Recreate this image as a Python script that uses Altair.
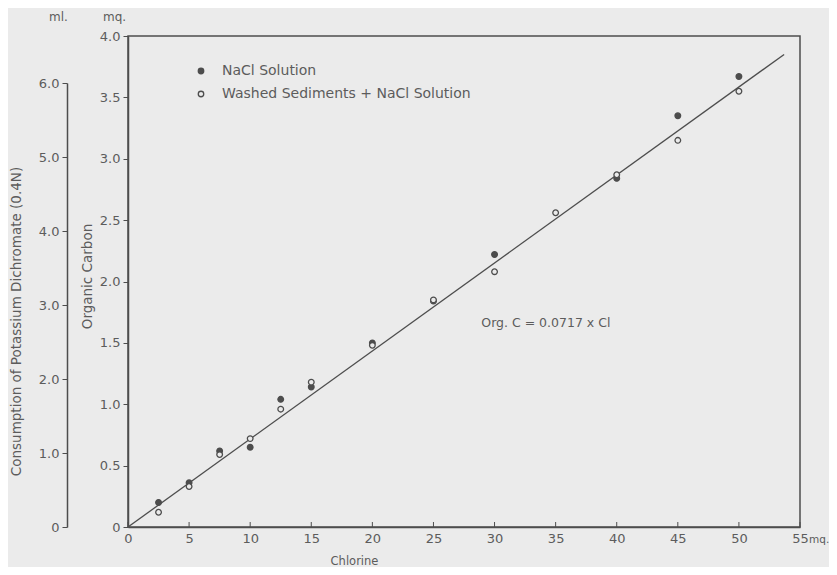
import altair as alt
import pandas as pd

# ---- data ----
x_nacl = [2.5, 5, 7.5, 10, 12.5, 15, 20, 25, 30, 40, 45, 50]
y_nacl = [0.20, 0.36, 0.62, 0.65, 1.04, 1.14, 1.50, 1.84, 2.22, 2.84, 3.35, 3.67]
x_washed = [2.5, 5, 7.5, 10, 12.5, 15, 20, 25, 30, 35, 40, 45, 50]
y_washed = [0.12, 0.33, 0.59, 0.72, 0.96, 1.18, 1.48, 1.85, 2.08, 2.56, 2.87, 3.15, 3.55]
fit_x = [0, 53.7]
fit_y = [0, 3.85]
series_names = ["NaCl Solution", "Washed Sediments + NaCl Solution"]
x_ticks = [0, 5, 10, 15, 20, 25, 30, 35, 40, 45, 50, 55]
mg_ticks = [0, 0.5, 1.0, 1.5, 2.0, 2.5, 3.0, 3.5, 4.0]
ml_ticks = [0, 1, 2, 3, 4, 5, 6]
ml_px_per_unit = 74     # vertical pixels per ml on the outer axis
equation = "Org. C = 0.0717 x Cl"
eq_pos = [34.2, 1.66]
top_units = ["mq.", "ml."]
x_unit = "mq."

BG = "#ebebeb"
INK = "#4d4d4d"
TXT = "#5c5c5c"
FONT = "DejaVu Sans"
W, H = 672, 491

pts_df = pd.DataFrame(
    {"x": x_nacl + x_washed,
     "y": y_nacl + y_washed,
     "series": [series_names[0]] * len(x_nacl) + [series_names[1]] * len(x_washed)}
)
fit_df = pd.DataFrame({"x": fit_x, "y": fit_y})
tick_df = pd.DataFrame({"x": x_ticks})
ml_df = pd.DataFrame({"v": ml_ticks})
eq_df = pd.DataFrame({"x": [eq_pos[0]], "y": [eq_pos[1]], "t": [equation]})
top_unit_df = pd.DataFrame({"t": top_units, "px": [-25, -79]})

xscale = alt.Scale(domain=[0, 55], nice=False, zero=True)
yscale = alt.Scale(domain=[0, 4.0], nice=False)

xaxis = alt.Axis(
    values=x_ticks, ticks=False, domainColor=INK, domainWidth=1.5,
    labelFontSize=13, labelColor=TXT, labelFont=FONT, labelPadding=5,
    labelFlush=False,
    title="Chlorine", titleFontSize=11.5, titleFont=FONT, titleColor=TXT,
    titleFontWeight="normal", titleX=226, titleY=28, titleAnchor="middle",
    grid=False,
)
yaxis = alt.Axis(
    values=mg_ticks, tickSize=5, tickColor=INK, domainColor=INK, domainWidth=1.5,
    labelExpr="datum.value == 0 ? '0' : format(datum.value, '.1f')",
    labelFontSize=13, labelColor=TXT, labelFont=FONT, labelPadding=3,
    title="Organic Carbon", titleFontSize=13.5, titleFont=FONT, titleColor=TXT,
    titleFontWeight="normal", titleX=-34, titleY=240, titleAngle=-90,
    grid=False,
)

fit = alt.Chart(fit_df).mark_line(color=INK, strokeWidth=1.3).encode(
    x=alt.X("x:Q", scale=xscale, axis=xaxis),
    y=alt.Y("y:Q", scale=yscale, axis=yaxis),
)

inner_ticks = alt.Chart(tick_df).mark_rule(color=INK, strokeWidth=1).encode(
    x=alt.X("x:Q", scale=xscale),
    y=alt.value(H),
    y2=alt.value(H - 5),
)

pts = alt.Chart(pts_df).mark_point(
    opacity=1, strokeWidth=1.3, stroke=INK, size=32, shape="circle"
).encode(
    x=alt.X("x:Q", scale=xscale),
    y=alt.Y("y:Q", scale=yscale),
    fill=alt.Fill(
        "series:N",
        scale=alt.Scale(domain=series_names, range=[INK, BG]),
        legend=alt.Legend(
            orient="none", legendX=66, legendY=28, title=None,
            labelFontSize=14, labelColor=TXT, labelFont=FONT, labelLimit=0,
            symbolType="circle", symbolSize=30, symbolStrokeColor=INK,
            symbolStrokeWidth=1.3, rowPadding=9, labelOffset=14,
        ),
    ),
    order=alt.Order("series:N"),
)

eq_text = alt.Chart(eq_df).mark_text(
    fontSize=12.5, font=FONT, color=TXT, align="center", baseline="middle"
).encode(
    x=alt.X("x:Q", scale=xscale),
    y=alt.Y("y:Q", scale=yscale),
    text="t:N",
)

top_units_text = alt.Chart(top_unit_df).mark_text(
    fontSize=12, font=FONT, color=TXT, align="left", baseline="middle"
).encode(
    x=alt.X("px:Q", scale=None),
    y=alt.value(-19),
    text="t:N",
)

x_unit_text = alt.Chart(pd.DataFrame({"t": [x_unit]})).mark_text(
    fontSize=10.5, font=FONT, color=TXT, align="left", baseline="middle"
).encode(
    x=alt.value(W + 9),
    y=alt.value(H + 13),
    text="t:N",
)

inner = alt.layer(fit, inner_ticks, pts, eq_text, top_units_text, x_unit_text)

ml_axis = alt.Axis(
    values=ml_ticks, orient="left", offset=61, domain=True, domainColor=INK,
    domainWidth=1.5, tickSize=5,
    tickColor=INK, labelExpr="datum.value == 0 ? '0' : format(datum.value, '.1f')",
    labelFontSize=13, labelColor=TXT, labelFont=FONT, labelPadding=3,
    title="Consumption of Potassium Dichromate (0.4N)", titleFontSize=13.5,
    titleFont=FONT, titleColor=TXT, titleFontWeight="normal",
    titleX=-44, titleY=285, titleAngle=-90, grid=False,
)

ml_layer = alt.Chart(ml_df).mark_point(opacity=0).encode(
    x=alt.value(-61),
    y=alt.Y(
        "v:Q",
        scale=alt.Scale(domain=[0, ml_ticks[-1]], nice=False,
                        range=[H, H - ml_ticks[-1] * ml_px_per_unit]),
        axis=ml_axis,
    ),
)

chart = (
    alt.layer(inner, ml_layer)
    .resolve_scale(y="independent")
    .properties(
        width=W, height=H, background=BG,
        padding={"left": 120, "top": 28, "right": 29, "bottom": 40},
        autosize=alt.AutoSizeParams(type="none"),
    )
    .configure_view(stroke=INK, strokeWidth=1.5)
)

chart.save("out.html", embed_options={"renderer": "svg", "actions": False})
